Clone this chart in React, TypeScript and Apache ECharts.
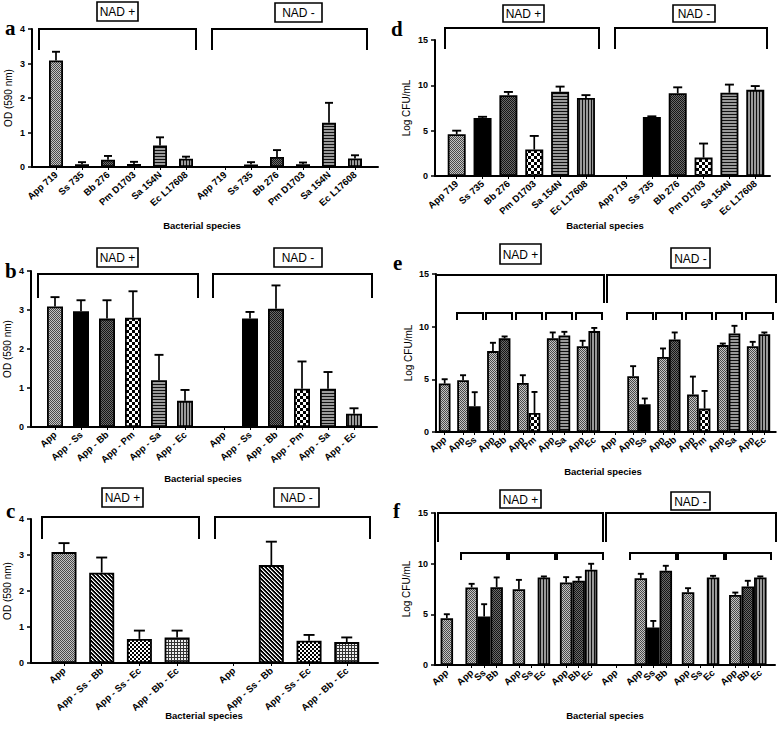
import React, { useEffect, useRef } from 'react';
import * as echarts from 'echarts';

// ---------- Data ----------
// Panel a: OD (590 nm), single species
const aLabels = ['App 719', 'Ss 735', 'Bb 276', 'Pm D1703', 'Sa 154N', 'Ec L17608'];
const aPlus = [3.09, 0.08, 0.21, 0.09, 0.62, 0.24];
const aPlusErr = [0.25, 0.06, 0.11, 0.06, 0.24, 0.06];
const aMinus = [0.01, 0.07, 0.29, 0.08, 1.28, 0.25];
const aMinusErr = [0, 0.07, 0.2, 0.05, 0.58, 0.09];

// Panel b: OD (590 nm), App with one other species
const bLabels = ['App', 'App - Ss', 'App - Bb', 'App - Pm', 'App - Sa', 'App - Ec'];
const bPlus = [3.09, 2.97, 2.78, 2.8, 1.2, 0.67];
const bPlusErr = [0.24, 0.28, 0.47, 0.68, 0.65, 0.28];
const bMinus = [0.01, 2.78, 3.03, 0.98, 0.98, 0.34];
const bMinusErr = [0, 0.17, 0.6, 0.7, 0.43, 0.14];

// Panel c: OD (590 nm), App with two other species
const cLabels = ['App', 'App - Ss - Bb', 'App - Ss - Ec', 'App - Bb - Ec'];
const cPlus = [3.08, 2.51, 0.67, 0.71];
const cPlusErr = [0.25, 0.42, 0.23, 0.19];
const cMinus = [0.01, 2.72, 0.62, 0.58];
const cMinusErr = [0, 0.65, 0.16, 0.13];

// Panel d: Log CFU/mL, single species
const dLabels = ['App 719', 'Ss 735', 'Bb 276', 'Pm D1703', 'Sa 154N', 'Ec L17608'];
const dPlus = [4.6, 6.41, 8.92, 2.92, 9.28, 8.6];
const dPlusErr = [0.4, 0.12, 0.35, 1.5, 0.58, 0.32];
const dMinus: (number | null)[] = [null, 6.52, 9.12, 2.03, 9.18, 9.5];
const dMinusErr = [0, 0.06, 0.66, 1.55, 0.9, 0.42];

// Panel e: Log CFU/mL, pairs
const eGroups = [['App'], ['App', 'Ss'], ['App', 'Bb'], ['App', 'Pm'], ['App', 'Sa'], ['App', 'Ec']];
const ePlus = [[4.6], [4.92, 2.45], [7.68, 8.89], [4.66, 1.81], [8.89, 9.17], [8.15, 9.58]];
const ePlusErr = [[0.41], [0.47, 1.33], [0.79, 0.18], [0.73, 1.99], [0.56, 0.34], [0.51, 0.3]];
const eMinus: (number | null)[][] = [[null], [5.3, 2.64], [7.13, 8.78], [3.55, 2.22], [8.25, 9.36], [8.15, 9.29]];
const eMinusErr = [[0], [0.95, 0.54], [0.8, 0.67], [1.71, 1.68], [0.15, 0.72], [0.41, 0.16]];

// Panel f: Log CFU/mL, triples
const fGroups = [['App'], ['App', 'Ss', 'Bb'], ['App', 'Ss', 'Ec'], ['App', 'Bb', 'Ec']];
const fPlus: (number | null)[][] = [[4.62], [7.65, 4.78, 7.68], [7.48, null, 8.64], [8.14, 8.31, 9.4]];
const fPlusErr = [[0.39], [0.36, 1.22, 0.96], [0.92, 0, 0.1], [0.53, 0.36, 0.59]];
const fMinus: (number | null)[][] = [[null], [8.57, 3.69, 9.3], [7.19, null, 8.64], [6.92, 7.75, 8.64]];
const fMinusErr = [[0], [0.43, 0.66, 0.49], [0.39, 0, 0.16], [0.23, 0.56, 0.1]];

const odTicks = [0, 1, 2, 3, 4];
const cfuTicks = [0, 5, 10, 15];

// ---------- Layout ----------
const FONT = '"Liberation Sans", Arial, Helvetica, sans-serif';

interface Layout {
  L: number; R: number; T: number; B: number;
  x0: number; s: number; barW: number; cap: number;
  minusOffset: number; singleShift: number;
  ticks: number[]; yName: string; nameGap: number;
}

const layouts: Layout[] = [
  { L: 32, R: 378, T: 29, B: 167, x0: 56, s: 26, barW: 14, cap: 4, minusOffset: 6.5, singleShift: 0, ticks: odTicks, yName: 'OD (590 nm)', nameGap: 19 },
  { L: 31, R: 377, T: 271, B: 427, x0: 55, s: 26, barW: 16, cap: 4.5, minusOffset: 6.5, singleShift: 0, ticks: odTicks, yName: 'OD (590 nm)', nameGap: 19 },
  { L: 31, R: 378, T: 519, B: 663, x0: 64, s: 37.7, barW: 25, cap: 5.5, minusOffset: 4.5, singleShift: 0, ticks: odTicks, yName: 'OD (590 nm)', nameGap: 19 },
  { L: 435, R: 770, T: 40, B: 176, x0: 456.7, s: 25.85, barW: 18, cap: 4.5, minusOffset: 6.55, singleShift: 0, ticks: cfuTicks, yName: 'Log CFU/mL', nameGap: 24 },
  { L: 436, R: 777, T: 274, B: 432, x0: 439, s: 30, barW: 11.7, cap: 3, minusOffset: 5.69, singleShift: 0.19, ticks: cfuTicks, yName: 'Log CFU/mL', nameGap: 23 },
  { L: 435, R: 775, T: 513, B: 665, x0: 436.9, s: 47.25, barW: 12.5, cap: 3, minusOffset: 3.58, singleShift: 0.21, ticks: cfuTicks, yName: 'Log CFU/mL', nameGap: 24 },
];

const letters: [string, number, number][] = [
  ['a', 5, 17], ['b', 5, 260], ['c', 6, 500], ['d', 391, 18], ['e', 393, 252], ['f', 393, 500],
];

const boxes: [number, number, number, number, string][] = [
  [97, 2, 41, 19, 'NAD +'], [275, 3, 47, 19, 'NAD -'],
  [97, 248, 41, 19, 'NAD +'], [274, 248, 48, 19, 'NAD -'],
  [102, 488, 41, 19, 'NAD +'], [274, 488, 45, 19, 'NAD -'],
  [503, 5, 41, 17, 'NAD +'], [673, 5, 42, 17, 'NAD -'],
  [500, 244, 41, 20, 'NAD +'], [671, 248, 39, 20, 'NAD -'],
  [500, 490, 41, 18, 'NAD +'], [671, 492, 39, 18, 'NAD -'],
];

// [x1, x2, yTop, yBottom]
const brackets: [number, number, number, number][] = [
  [39, 196, 29, 50], [212, 367, 29, 50],
  [38, 198, 274, 298], [213, 372, 274, 298],
  [42, 199, 517, 539], [215, 370, 517, 539],
  [445, 599, 28, 49], [615, 767, 28, 49],
  [436, 604, 275, 303], [607, 776, 275, 303],
  [457, 483, 313, 320], [486, 512, 313, 320], [516, 542, 313, 320], [546, 572, 313, 320], [576, 602, 313, 320],
  [627, 653, 313, 320], [656, 682, 313, 320], [686, 712, 313, 320], [716, 742, 313, 320], [746, 773, 313, 320],
  [438, 603, 513, 542], [606, 776, 513, 542],
  [461, 507, 553, 560], [509, 555, 553, 560], [557, 603, 553, 560],
  [630, 676, 553, 560], [678, 724, 553, 560], [726, 771, 553, 560],
];

const xTitles: [number, number][] = [
  [202, 225], [203, 478], [204, 715], [605, 225], [603, 471], [605, 715],
];

// ---------- Helpers ----------
function makePatterns() {
  const mk = (w: number, h: number, fn: (x: number, y: number) => string) => {
    const c = document.createElement('canvas');
    c.width = w; c.height = h;
    const ctx = c.getContext('2d') as CanvasRenderingContext2D;
    for (let y = 0; y < h; y++) for (let x = 0; x < w; x++) { ctx.fillStyle = fn(x, y); ctx.fillRect(x, y, 1, 1); }
    return { image: c, repeat: 'repeat', imageWidth: w, imageHeight: h } as any;
  };
  return {
    app: mk(2, 2, (x, y) => ((x + y) % 2 === 0 ? '#4a4a4a' : '#c4c4c4')),
    ss: '#000000',
    bb: mk(2, 2, (x, y) => ((x + y) % 2 === 0 ? '#151515' : '#6a6a6a')),
    pm: mk(6, 6, (x, y) => ((Math.floor(x / 3) + Math.floor(y / 3)) % 2 === 0 ? '#000' : '#fff')),
    sa: mk(1, 3, (x, y) => (y === 0 ? '#111' : '#9a9a9a')),
    ec: mk(3, 1, (x) => (x === 0 ? '#111' : '#9a9a9a')),
    diag: mk(4, 4, (x, y) => { const d = (((x - y) % 4) + 4) % 4; return d === 0 ? '#fff' : d === 1 ? '#888' : '#000'; }),
    ssec: mk(4, 4, (x, y) => ((Math.floor(x / 2) + Math.floor(y / 2)) % 2 === 0 ? '#000' : '#fff')),
    bbec: mk(3, 3, (x, y) => (x === 0 || y === 0 ? '#333' : '#eeeeee')),
  } as Record<string, any>;
}

function patKey(label: string): string {
  if (label === 'App - Ss - Bb') return 'diag';
  if (label === 'App - Ss - Ec') return 'ssec';
  if (label === 'App - Bb - Ec') return 'bbec';
  const parts = label.split(' - ');
  const last = parts[parts.length - 1].split(' ')[0];
  const m: Record<string, string> = { App: 'app', Ss: 'ss', Bb: 'bb', Pm: 'pm', Sa: 'sa', Ec: 'ec' };
  return m[last] || 'app';
}

const single = (arr: (number | null)[]) => arr.map((v) => [v]);

function buildPanel(
  i: number, lay: Layout, pats: Record<string, any>,
  groups: string[][],
  plusV: (number | null)[][], plusE: number[][],
  minusV: (number | null)[][], minusE: number[][],
) {
  const xs: number[] = [];
  const labelMap = new Map<number, string>();
  const barData: any[] = [];
  const errData: any[] = [];
  const key = (v: number) => Math.round(v * 1000);
  const bw = lay.barW / lay.s;
  [[plusV, plusE, 0], [minusV, minusE, lay.minusOffset]].forEach(([vals, errs, base]: any) => {
    groups.forEach((grp, g) => {
      const n = grp.length;
      const center = base + g + (n === 1 ? lay.singleShift : 0);
      grp.forEach((lab, j) => {
        const x = center + (j - (n - 1) / 2) * bw;
        xs.push(x);
        labelMap.set(key(x), lab);
        const v = vals[g][j];
        if (v !== null && v !== undefined) {
          barData.push({ value: [x, v], itemStyle: { color: pats[patKey(lab)] } });
          const e = errs[g][j];
          if (e > 0) errData.push([x, v, e]);
        }
      });
    });
  });

  const xMin = (lay.L - lay.x0) / lay.s;
  const xMax = (lay.R - lay.x0) / lay.s;
  // empty sentinel labels at both ends so that no real label is dropped as overlapping
  const labelValues = [xMin, ...xs, xMax];

  const grid = { left: lay.L, top: lay.T, width: lay.R - lay.L, height: lay.B - lay.T, containLabel: false };
  const xAxis = {
    gridIndex: i, type: 'value', min: xMin, max: xMax,
    axisLine: { show: true, onZero: false, lineStyle: { color: '#000', width: 2 } },
    axisTick: { show: true, customValues: xs, length: 3, lineStyle: { color: '#000', width: 1 } },
    axisLabel: {
      show: true, customValues: labelValues, rotate: 42, margin: 6,
      showMinLabel: true, showMaxLabel: true, hideOverlap: false,
      formatter: (v: number) => labelMap.get(key(v)) || '',
      fontSize: 9.5, fontWeight: 'bold', fontFamily: FONT, color: '#000',
    },
    splitLine: { show: false },
  };
  const yAxis = {
    gridIndex: i, type: 'value', min: 0, max: lay.ticks[lay.ticks.length - 1],
    interval: lay.ticks[1] - lay.ticks[0],
    name: lay.yName, nameLocation: 'middle', nameGap: lay.nameGap,
    nameTextStyle: { fontSize: 10, fontFamily: FONT, color: '#000' },
    axisLine: { show: true, onZero: false, lineStyle: { color: '#000', width: 2 } },
    axisTick: { show: true, length: 4, lineStyle: { color: '#000', width: 1.5 } },
    axisLabel: { fontSize: 9, fontWeight: 'bold', fontFamily: FONT, color: '#000', margin: 7 },
    splitLine: { show: false },
  };
  const cap = lay.cap;
  const series = [
    {
      type: 'bar', xAxisIndex: i, yAxisIndex: i, barWidth: lay.barW, silent: true,
      itemStyle: { borderColor: '#000', borderWidth: 1.8 },
      data: barData, z: 2,
    },
    {
      type: 'custom', xAxisIndex: i, yAxisIndex: i, silent: true, z: 3,
      encode: { x: 0, y: 1 },
      data: errData,
      renderItem: (params: any, api: any) => {
        const x = api.value(0), m = api.value(1), e = api.value(2);
        const p0 = api.coord([x, m]);
        const p1 = api.coord([x, m + e]);
        return {
          type: 'group',
          children: [
            { type: 'line', shape: { x1: p0[0], y1: p0[1], x2: p1[0], y2: p1[1] }, style: { stroke: '#000', lineWidth: 1.7 } },
            { type: 'line', shape: { x1: p1[0] - cap, y1: p1[1], x2: p1[0] + cap, y2: p1[1] }, style: { stroke: '#000', lineWidth: 1.9 } },
          ],
        };
      },
    },
  ];
  return { grid, xAxis, yAxis, series };
}

export default function App() {
  const ref = useRef<HTMLDivElement>(null);
  useEffect(() => {
    if (!ref.current) return;
    const chart = echarts.init(ref.current, undefined, { renderer: 'svg' });
    const pats = makePatterns();
    const panels = [
      buildPanel(0, layouts[0], pats, aLabels.map((l) => [l]), single(aPlus), single(aPlusErr) as number[][], single(aMinus), single(aMinusErr) as number[][]),
      buildPanel(1, layouts[1], pats, bLabels.map((l) => [l]), single(bPlus), single(bPlusErr) as number[][], single(bMinus), single(bMinusErr) as number[][]),
      buildPanel(2, layouts[2], pats, cLabels.map((l) => [l]), single(cPlus), single(cPlusErr) as number[][], single(cMinus), single(cMinusErr) as number[][]),
      buildPanel(3, layouts[3], pats, dLabels.map((l) => [l]), single(dPlus), single(dPlusErr) as number[][], single(dMinus), single(dMinusErr) as number[][]),
      buildPanel(4, layouts[4], pats, eGroups, ePlus, ePlusErr, eMinus, eMinusErr),
      buildPanel(5, layouts[5], pats, fGroups, fPlus, fPlusErr, fMinus, fMinusErr),
    ];

    const graphic: any[] = [];
    letters.forEach(([t, x, y]) => graphic.push({
      type: 'text', x, y, silent: true,
      style: { text: t, font: 'bold 21px "Liberation Serif", "Times New Roman", serif', fill: '#000', align: 'left', verticalAlign: 'alphabetic' },
    }));
    brackets.forEach(([x1, x2, yt, yb]) => graphic.push({
      type: 'polyline', silent: true,
      shape: { points: [[x1, yb], [x1, yt], [x2, yt], [x2, yb]] },
      style: { stroke: '#000', lineWidth: 2, fill: null },
    }));
    boxes.forEach(([x, y, w, h, t]) => {
      graphic.push({ type: 'rect', silent: true, shape: { x, y, width: w, height: h }, style: { fill: '#fff', stroke: '#000', lineWidth: 1.6 } });
      graphic.push({ type: 'text', silent: true, x: x + w / 2, y: y + h / 2 + 0.5, style: { text: t, font: `12px ${FONT}`, fill: '#000', align: 'center', verticalAlign: 'middle' } });
    });
    xTitles.forEach(([x, y]) => graphic.push({
      type: 'text', silent: true, x, y,
      style: { text: 'Bacterial species', font: `bold 9.5px ${FONT}`, fill: '#000', align: 'center', verticalAlign: 'middle' },
    }));

    chart.setOption({
      animation: false,
      backgroundColor: '#ffffff',
      grid: panels.map((p) => p.grid),
      xAxis: panels.map((p) => p.xAxis),
      yAxis: panels.map((p) => p.yAxis),
      series: panels.flatMap((p) => p.series),
      graphic,
    } as any);
    return () => chart.dispose();
  }, []);
  return (
    <div
      ref={ref}
      style={{ position: 'absolute', left: 0, top: 0, width: 778, height: 730, background: '#fff' }}
    />
  );
}
